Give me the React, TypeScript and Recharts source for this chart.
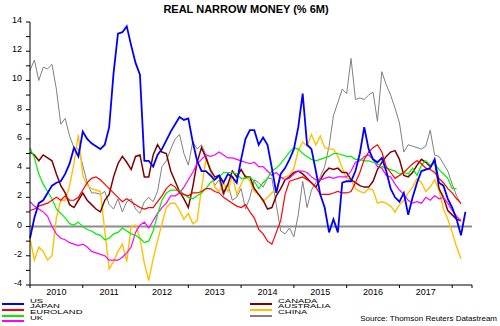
import React from "react";
import { LineChart, Line, XAxis, YAxis, ReferenceLine } from "recharts";

// monthly, Jan 2010 onwards
const YEARS = ["2010", "2011", "2012", "2013", "2014", "2015", "2016", "2017"];

const US = [
  -0.8, 0.6, 1.6, 1.8, 2.3, 2.8, 3.0, 3.1, 3.6, 4.3, 5.4, 4.8, 6.5, 6.0, 5.7, 5.5, 5.3, 5.6, 6.8, 10.5,
  13.2, 13.3, 13.7, 12.4, 11.2, 10.4, 4.5, 4.5, 4.1, 4.9, 5.3, 5.9, 6.5, 7.0, 7.5, 7.3, 7.4, 5.8, 4.5, 3.8,
  3.8, 3.5, 3.2, 3.5, 3.0, 3.6, 3.4, 3.0, 4.6, 6.0, 6.6, 6.6, 5.6, 6.1, 5.6, 4.0, 2.3, 3.6, 4.0, 4.6,
  5.3, 6.8, 9.1, 5.6, 5.3, 3.8, 2.2, 1.3, -0.4, 0.5, -0.4, 3.0, 3.1, 3.1, 3.8, 5.0, 6.8, 5.3, 4.6, 4.4,
  4.7, 3.8, 2.6, 2.0, 1.7, 2.3, 0.8, 2.0, 3.0, 3.8, 3.9, 4.0, 4.6, 3.0, 2.8, 1.9, 1.3, 0.5, -0.6, 1.0,
];

const JAPAN = [
  1.1, 1.2, 1.4, 1.5, 1.6, 1.8, 2.0, 1.8, 2.1, 1.8, 1.8, 2.0, 2.5, 3.0, 3.3, 3.4, 3.2, 2.9, 2.6, 2.3,
  2.0, 1.7, 1.9, 1.7, 1.5, 1.3, 1.2, 1.3, 1.3, 1.7, 2.1, 2.6, 2.9, 2.7, 2.3, 2.2, 2.1, 2.3, 2.3, 2.4,
  2.6, 2.6, 2.4, 2.3, 2.0, 1.8, 1.6, 1.4, 1.3, 1.5, 1.0, 0.6, -0.2, -0.5, -1.0, -1.2, -0.4, 0.4, 2.2, 3.1,
  3.2, 3.3, 3.4, 3.2, 3.0, 2.7, 2.2, 2.2, 2.2, 2.3, 2.4, 2.3, 2.3, 2.4, 3.0, 3.7, 4.6, 5.1, 5.4, 5.6,
  5.1, 4.1, 3.7, 3.3, 3.5, 3.7, 4.0, 4.3, 4.5, 4.3, 4.0, 3.9, 3.7, 3.3, 3.0, 2.6, 2.3, 1.9, 1.6,
];

const EUROLAND = [
  5.4, 4.7, 3.6, 2.9, 2.4, 1.9, 1.2, 0.9, 0.6, 0.2, 0.1, 0.3, 0.0, -0.2, -0.3, -0.5, -0.6, -0.9, -0.8, -0.5,
  -0.4, -0.1, -0.3, -0.5, -0.6, -0.8, -1.1, -1.0, -0.3, 0.8, 1.8, 2.3, 2.5, 2.5, 2.5, 2.2, 2.0, 1.9, 2.1, 2.3,
  2.6, 3.0, 3.2, 3.4, 3.7, 3.7, 3.7, 3.6, 3.3, 3.3, 3.4, 3.1, 2.6, 3.0, 3.3, 3.8, 4.0, 4.3, 4.7, 5.1,
  5.4, 5.3, 5.0, 4.8, 4.6, 4.5, 4.6, 4.7, 4.8, 5.0, 5.0, 4.9, 4.8, 4.8, 4.6, 4.6, 4.5, 4.5, 4.4, 4.3,
  4.1, 4.0, 3.9, 3.8, 3.6, 3.7, 3.6, 4.0, 3.5, 4.2, 4.5, 4.2, 4.3, 3.9, 3.6, 3.3, 2.6, 2.6,
];

const UK = [
  1.7, 1.4, 1.2, 1.0, 0.7, 0.0, -0.5, -0.8, -0.9, -1.1, -1.2, -1.3, -1.2, -1.4, -1.7, -1.8, -1.9, -2.0, -2.3, -2.3,
  -2.3, -2.1, -1.8, -1.4, -0.4, 0.1, 0.3, -0.1, 0.4, 0.9, 1.3, 1.6, 2.1, 2.1, 2.3, 2.7, 3.2, 3.7, 4.3, 4.6,
  4.9, 4.8, 4.9, 5.1, 4.9, 4.7, 4.7, 4.6, 4.5, 4.4, 4.3, 4.4, 4.1, 4.1, 3.8, 3.5, 3.7, 3.4, 3.2, 3.3,
  3.6, 3.8, 3.8, 3.7, 3.4, 3.2, 3.2, 3.3, 3.4, 3.3, 3.4, 3.4, 3.4, 3.8, 4.4, 4.5, 4.8, 4.9, 4.6, 4.1,
  4.0, 3.5, 3.4, 2.9, 2.5, 2.2, 1.8, 1.6, 1.7, 1.6, 2.0, 1.8, 2.1, 1.9, 2.0, 1.6, 1.1, 0.7, 0.4,
];

const CANADA = [
  5.1, 4.9, 4.5, 4.9, 4.7, 4.5, 3.6, 2.8, 2.3, 1.5, 1.3, 1.8, 2.3, 1.8, 1.5, 1.2, 1.0, 1.8, 2.2, 3.4,
  4.3, 4.8, 4.4, 3.9, 4.8, 4.9, 3.4, 3.4, 4.9, 5.6, 5.1, 5.0, 3.8, 3.1, 2.4, 1.9, 1.3, 2.7, 4.4, 5.4,
  4.7, 3.9, 3.4, 3.5, 2.3, 2.9, 3.8, 3.4, 3.9, 3.4, 3.4, 2.6, 2.2, 1.8, 1.2, 1.3, 2.1, 2.6, 3.2, 3.4,
  3.7, 3.8, 3.6, 3.3, 3.0, 2.7, 3.2, 3.7, 4.0, 3.9, 4.0, 3.7, 3.7, 3.2, 3.0, 2.8, 2.7, 2.7, 3.1, 3.9,
  4.4, 4.8, 5.1, 5.2, 4.6, 3.5, 3.4, 3.7, 4.2, 4.6, 4.4, 4.1, 4.5, 2.6, 2.0, 1.1, 0.8, 0.5, 0.4,
];

const AUSTRALIA = [
  -0.8, -2.3, -1.4, -1.7, -2.3, -2.0, 0.6, 1.8, 1.8, 2.8, 4.3, 6.3, 3.5, 2.8, 2.6, 2.5, 2.4, -0.3, -2.9, -2.4,
  -1.7, -1.2, -2.4, 0.0, 0.1, -0.8, -2.5, -3.7, -2.2, -1.0, 0.2, 1.3, 1.6, 1.6, 1.1, 0.5, 0.9, 0.2, 0.4, 2.6,
  4.6, 3.9, 2.7, 2.4, 3.0, 2.4, 3.5, 2.2, 2.9, 3.5, 3.1, 2.4, 2.2, 1.7, 2.0, 2.3, 2.6, 3.3, 3.4, 3.5,
  4.0, 5.2, 5.8, 5.5, 6.3, 5.6, 6.2, 5.4, 5.3, 5.3, 4.8, 4.0, 3.3, 3.2, 2.6, 2.4, 2.3, 2.6, 2.5, 1.6,
  1.7, 1.6, 1.4, 1.0, 1.5, 1.8, 2.3, 2.7, 3.3, 3.0, 2.4, 2.7, 3.2, 2.5, 1.2, 0.5, -0.4, -1.4, -2.2,
];

const CHINA = [
  10.7, 11.4, 10.0, 10.9, 10.8, 11.1, 9.4, 7.0, 7.4, 6.2, 5.4, 5.3, 4.2, 3.0, 2.3, 2.3, 2.2, 2.4, 1.5, 1.2,
  1.9, 1.0, 1.7, 1.9, 1.2, 0.9, 1.7, 2.0, 1.7, 2.4, 4.1, 4.5, 5.3, 6.0, 6.3, 5.0, 4.2, 5.8, 5.3, 5.6,
  4.9, 3.8, 2.8, 3.2, 2.1, 2.9, 1.8, 2.0, 2.6, 1.2, 2.0, 3.2, 3.0, 2.7, 3.3, 3.3, 1.5, -0.3, -0.5, -0.1,
  -0.7, 0.8, 3.1, 1.3, 2.5, 3.0, 3.4, 4.1, 5.5, 7.6, 8.5, 9.4, 9.1, 11.5, 8.7, 8.8, 8.7, 9.0, 9.2, 7.2,
  10.6, 9.7, 9.0, 8.1, 7.1, 5.1, 5.6, 5.5, 5.4, 5.3, 5.5, 6.6, 4.9, 4.8, 4.3, 3.8, 2.9, 2.1, 1.5,
];

const SERIES = [
  { key: "china", name: "CHINA", values: CHINA, color: "#808080", width: 1 },
  { key: "australia", name: "AUSTRALIA", values: AUSTRALIA, color: "#FFC000", width: 1.4 },
  { key: "canada", name: "CANADA", values: CANADA, color: "#800000", width: 1.5 },
  { key: "uk", name: "UK", values: UK, color: "#FF00FF", width: 1.2 },
  { key: "euroland", name: "EUROLAND", values: EUROLAND, color: "#00F000", width: 1.2 },
  { key: "japan", name: "JAPAN", values: JAPAN, color: "#FF0000", width: 1.2 },
  { key: "us", name: "US", values: US, color: "#0000FF", width: 1.8 },
];

const data = US.map((_, i) => {
  const row: Record<string, number | null> = { m: i };
  SERIES.forEach((s) => {
    row[s.key] = s.values[i] ?? null;
  });
  return row;
});

const X_END = 100.5;
const xTicks: number[] = [];
YEARS.forEach((_, i) => xTicks.push(i * 12, i * 12 + 6));
xTicks.push(96, X_END);

const yTicks: number[] = [];
for (let v = -4; v <= 14; v++) yTicks.push(v);

const font = "'Liberation Sans', Arial, sans-serif";

const XTick = (props: any) => {
  const { x, y, payload } = props;
  const v = payload.value;
  if (v % 12 === 6) {
    return (
      <text x={x} y={y + 10} textAnchor="middle" fontSize={9} fill="#000" fontFamily={font}>
        {YEARS[(v - 6) / 12]}
      </text>
    );
  }
  return <line x1={x} x2={x} y1={y} y2={y + 3} stroke="#000" />;
};

const YTick = (props: any) => {
  const { x, y, payload } = props;
  const v = payload.value;
  return (
    <g>
      <line x1={x - 4} x2={x} y1={y} y2={y} stroke="#000" />
      {v % 2 === 0 && (
        <text x={x - 8} y={y + 1} textAnchor="end" fontSize={9} fill="#000" fontFamily={font}>
          {v}
        </text>
      )}
    </g>
  );
};

const LEFT_LEGEND = ["us", "japan", "euroland", "uk"];
const RIGHT_LEGEND = ["canada", "australia", "china"];
// centre of each legend text row
const ROW_Y = [301.3, 306.9, 312.5, 318.1];

const LegendItem = ({ k, row, left }: { k: string; row: number; left: number }) => {
  const s = SERIES.find((d) => d.key === k)!;
  return (
    <>
      <div
        style={{
          position: "absolute",
          left,
          top: ROW_Y[row] + 2,
          width: 22,
          height: 2,
          background: s.color,
        }}
      />
      <div
        style={{
          position: "absolute",
          left: left + 28,
          top: ROW_Y[row] - 4.5,
          height: 9,
          fontSize: 9,
          lineHeight: "9px",
          fontFamily: font,
          transform: "scale(1.05, 0.6)",
          transformOrigin: "left center",
          color: "#000",
          whiteSpace: "nowrap",
        }}
      >
        {s.name}
      </div>
    </>
  );
};

export default function App() {
  return (
    <div
      style={{
        position: "absolute",
        left: 0,
        top: 0,
        width: 500,
        height: 326,
        background: "#fff",
        overflow: "hidden",
      }}
    >
      <div
        style={{
          position: "absolute",
          left: 0,
          top: 3,
          width: 492,
          textAlign: "center",
          fontFamily: font,
          fontWeight: "bold",
          fontSize: 11,
          lineHeight: "12px",
        }}
      >
        REAL NARROW MONEY (% 6M)
      </div>
      <LineChart width={500} height={326} data={data} margin={{ top: 22, right: 28, bottom: 27, left: 0 }}>
        <XAxis
          dataKey="m"
          type="number"
          domain={[0, X_END]}
          ticks={xTicks}
          interval={0}
          tickLine={false}
          tickSize={0}
          tickMargin={0}
          tick={<XTick />}
          height={14}
          axisLine={{ stroke: "#000" }}
        />
        <YAxis
          type="number"
          domain={[-4, 14]}
          ticks={yTicks}
          interval={0}
          tickLine={false}
          tickSize={0}
          tickMargin={0}
          tick={<YTick />}
          width={30}
          axisLine={{ stroke: "#000" }}
        />
        <ReferenceLine y={0} stroke="#8c8c8c" strokeWidth={2} />
        {SERIES.map((s) => (
          <Line
            key={s.key}
            dataKey={s.key}
            type="linear"
            stroke={s.color}
            strokeWidth={s.width}
            dot={false}
            isAnimationActive={false}
          />
        ))}
      </LineChart>
      {LEFT_LEGEND.map((k, i) => (
        <LegendItem key={k} k={k} row={i} left={2} />
      ))}
      {RIGHT_LEGEND.map((k, i) => (
        <LegendItem key={k} k={k} row={i} left={250} />
      ))}
      <div
        style={{
          position: "absolute",
          right: 3,
          top: 314,
          fontSize: 8,
          lineHeight: "9px",
          fontFamily: font,
          color: "#000",
        }}
      >
        Source: Thomson Reuters Datastream
      </div>
    </div>
  );
}
